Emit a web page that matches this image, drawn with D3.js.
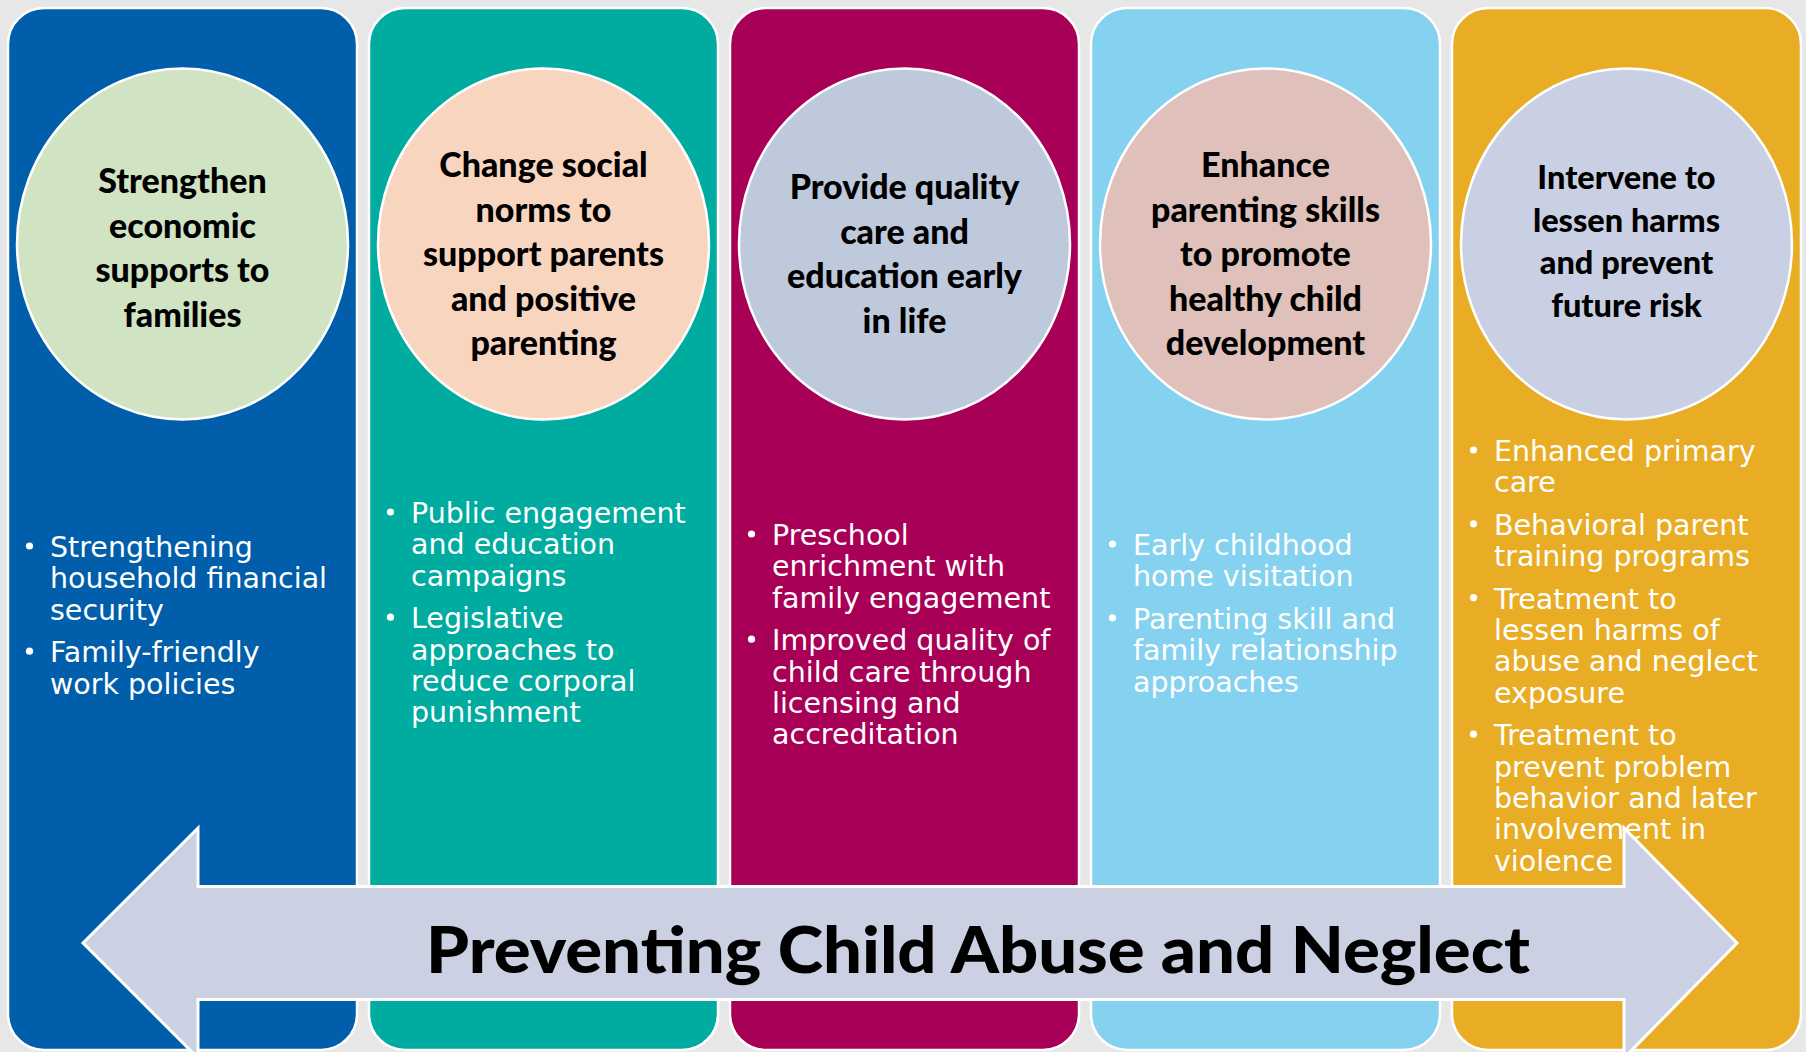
<!DOCTYPE html>
<html>
<head>
<meta charset="utf-8">
<script src="https://cdn.jsdelivr.net/npm/d3@7"></script>
<style>
  body { margin: 0; background: #e7e7e7; }
  svg { display: block; }
</style>
</head>
<body>
<div id="chart"></div>
<script>
// ---- content ----
var strategies = [
  ["Strengthen", "economic", "supports to", "families"],
  ["Change social", "norms to", "support parents", "and positive", "parenting"],
  ["Provide quality", "care and", "education early", "in life"],
  ["Enhance", "parenting skills", "to promote", "healthy child", "development"],
  ["Intervene to", "lessen harms", "and prevent", "future risk"]
];

var approaches = [
  [["Strengthening", "household financial", "security"],
   ["Family-friendly", "work policies"]],
  [["Public engagement", "and education", "campaigns"],
   ["Legislative", "approaches to", "reduce corporal", "punishment"]],
  [["Preschool", "enrichment with", "family engagement"],
   ["Improved quality of", "child care through", "licensing and", "accreditation"]],
  [["Early childhood", "home visitation"],
   ["Parenting skill and", "family relationship", "approaches"]],
  [["Enhanced primary", "care"],
   ["Behavioral parent", "training programs"],
   ["Treatment to", "lessen harms of", "abuse and neglect", "exposure"],
   ["Treatment to", "prevent problem", "behavior and later", "involvement in", "violence"]]
];

var bannerText = "Preventing Child Abuse and Neglect";

var columnColors = ["#005eaa", "#00aba0", "#a80057", "#84d2f0", "#e8ad24"];
var circleColors = ["#d0e3c3", "#f8d5bf", "#bec9dc", "#dfc0ba", "#cad0e3"];

// ---- layout ----
var W = 1806, H = 1052;
var colTop = 8, colBottom = 1050, colRadius = 36;
var circleCY = 244, circleRX = 165.5, circleRY = 175.5;
var titleFirstBase = [193, 177, 199, 177, 189];
var titleSize = [34, 34, 34, 34, 32.5];
var titlePitch = [44.6, 44.6, 44.6, 44.6, 42.7];
var listFirstBase = [557, 523, 545, 555, 461];
var lineH = 31.4, itemGap = 11;

var svg = d3.select("#chart").append("svg")
    .attr("width", W)
    .attr("height", H);

svg.append("rect")
    .attr("width", W).attr("height", H)
    .attr("fill", "#e7e7e7");

var x = d3.scaleBand()
    .domain(d3.range(strategies.length))
    .range([8, 1801])
    .paddingInner(0.0332)
    .paddingOuter(0);

var cols = svg.selectAll("g.col")
    .data(strategies)
    .enter().append("g")
    .attr("class", "col")
    .attr("transform", function(d, i) { return "translate(" + x(i) + ",0)"; });

cols.append("rect")
    .attr("x", 0)
    .attr("y", colTop)
    .attr("width", x.bandwidth())
    .attr("height", colBottom - colTop)
    .attr("rx", colRadius)
    .attr("fill", function(d, i) { return columnColors[i]; })
    .attr("stroke", "#ffffff")
    .attr("stroke-width", 2.5);

cols.append("ellipse")
    .attr("cx", x.bandwidth() / 2)
    .attr("cy", circleCY)
    .attr("rx", circleRX)
    .attr("ry", circleRY)
    .attr("fill", function(d, i) { return circleColors[i]; })
    .attr("stroke", "#ffffff")
    .attr("stroke-width", 2.5);

cols.each(function(lines, i) {
  var g = d3.select(this);
  g.selectAll("text.title")
    .data(lines)
    .enter().append("text")
    .attr("class", "title")
    .attr("x", x.bandwidth() / 2)
    .attr("y", function(d, k) { return titleFirstBase[i] + k * titlePitch[i]; })
    .attr("text-anchor", "middle")
    .attr("font-family", "Lato, 'Open Sans', sans-serif")
    .attr("font-weight", 900)
    .attr("font-size", titleSize[i])
    .attr("fill", "#000000")
    .text(function(d) { return d; });

  // bullet list
  var rows = [];
  var count = 0;
  approaches[i].forEach(function(item, j) {
    item.forEach(function(line, k) {
      rows.push({
        text: line,
        first: k === 0,
        y: listFirstBase[i] + count * lineH + j * itemGap
      });
      count++;
    });
  });

  g.selectAll("circle.bullet")
    .data(rows.filter(function(r) { return r.first; }))
    .enter().append("circle")
    .attr("class", "bullet")
    .attr("cx", 21.5)
    .attr("cy", function(r) { return r.y - 11; })
    .attr("r", 3.6)
    .attr("fill", "#ffffff");

  g.selectAll("text.item")
    .data(rows)
    .enter().append("text")
    .attr("class", "item")
    .attr("x", 42)
    .attr("y", function(r) { return r.y; })
    .attr("font-family", "'DejaVu Sans', Verdana, sans-serif")
    .attr("font-size", 28.5)
    .attr("fill", "#ffffff")
    .text(function(r) { return r.text; });
});

// double-headed arrow
var tipL = 83, backL = 198, backR = 1624, tipR = 1737;
var arrowCY = 943, shaftHalf = 56.5, headHalf = 115;
var arrowPts = [
  [tipL, arrowCY],
  [backL, arrowCY - headHalf],
  [backL, arrowCY - shaftHalf],
  [backR, arrowCY - shaftHalf],
  [backR, arrowCY - headHalf],
  [tipR, arrowCY],
  [backR, arrowCY + headHalf],
  [backR, arrowCY + shaftHalf],
  [backL, arrowCY + shaftHalf],
  [backL, arrowCY + headHalf]
];

svg.append("path")
    .attr("d", d3.line()(arrowPts) + "Z")
    .attr("fill", "#cbd1e3")
    .attr("stroke", "#ffffff")
    .attr("stroke-width", 3)
    .attr("stroke-linejoin", "miter");

svg.append("text")
    .attr("x", 978)
    .attr("y", 973)
    .attr("text-anchor", "middle")
    .attr("font-family", "Lato, 'Open Sans', sans-serif")
    .attr("font-weight", 900)
    .attr("font-size", 64)
    .attr("textLength", 1104)
    .attr("lengthAdjust", "spacingAndGlyphs")
    .attr("fill", "#000000")
    .text(bannerText);
</script>
</body>
</html>
